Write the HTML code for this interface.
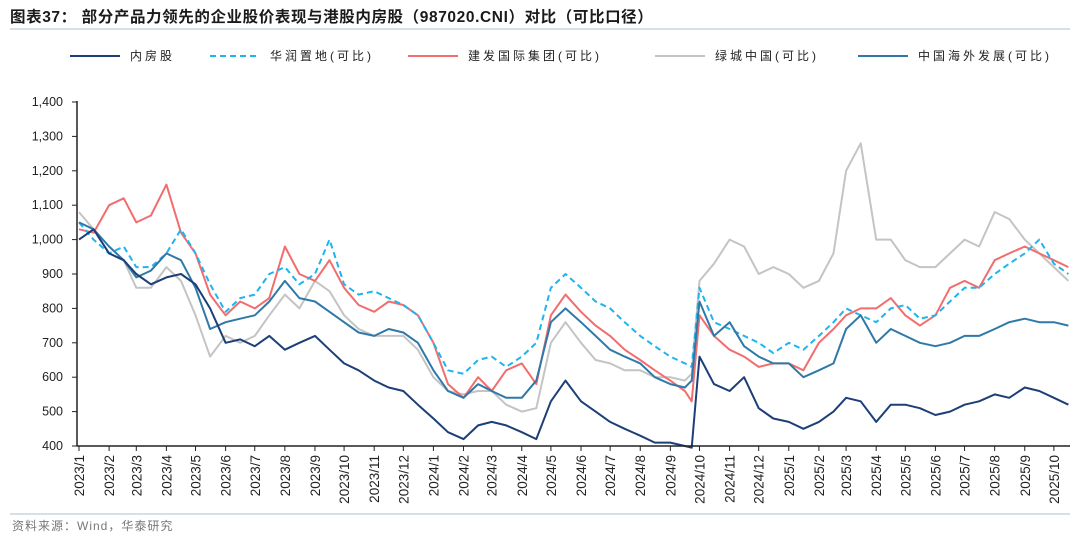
<!DOCTYPE html>
<html><head><meta charset="utf-8"><style>
body{margin:0;width:1080px;height:539px;background:#fff;overflow:hidden;font-family:"Liberation Sans","Noto Sans CJK SC",sans-serif}
svg text{font-family:"Liberation Sans","Noto Sans CJK SC",sans-serif}
</style></head><body>
<svg id="chart" width="1080" height="539">
<text x="10" y="22" font-size="15.5" font-weight="bold" fill="#1a1a1a" letter-spacing="0.6">图表37：  部分产品力领先的企业股价表现与港股内房股（987020.CNI）对比（可比口径）</text>
<line x1="10" y1="29" x2="1070" y2="29" stroke="#a9bfd6" stroke-width="1"/>
<line x1="10" y1="514" x2="1070" y2="514" stroke="#a9bfd6" stroke-width="1"/>
<text x="12" y="530" font-size="12" fill="#777" letter-spacing="1">资料来源：Wind，华泰研究</text>
<g id="legend"></g>
<g id="grid"></g><g id="series"></g><g id="axes"></g>
</svg>
<script>
const dates=(function(){const d=[];for(let y=2023;y<=2025;y++){for(let m=1;m<=12;m++){if(y===2025&&m>10)break;d.push(y+'-'+m+'-1');if(y===2024&&m===9){d.push('2024-9-16');d.push('2024-9-23');}else d.push(y+'-'+m+'-16');}}return d;})();
const seriesNames=["内房股","华润置地(可比)","建发国际集团(可比)","绿城中国(可比)","中国海外发展(可比)"];
const neifang=[1000,1030,960,940,900,870,890,900,870,800,700,710,690,720,680,700,720,680,640,620,590,570,560,520,480,440,420,460,470,460,440,420,530,590,530,500,470,450,430,410,410,400,395,660,580,560,600,510,480,470,450,470,500,540,530,470,520,520,510,490,500,520,530,550,540,570,560,540,520];
const huarun=[1050,1000,960,980,920,920,960,1030,960,870,790,830,840,900,920,870,900,1000,870,840,850,830,810,780,700,620,610,650,660,630,660,700,860,900,860,820,800,760,720,690,660,640,630,860,760,740,720,700,670,700,680,720,760,800,780,760,800,810,770,780,820,860,860,900,930,960,1000,930,900];
const jianfa=[1030,1020,1100,1120,1050,1070,1160,1020,960,840,780,820,800,830,980,900,880,940,860,810,790,820,810,780,700,580,540,600,560,620,640,580,780,840,790,750,720,680,650,620,590,560,530,780,720,680,660,630,640,640,620,700,740,780,800,800,830,780,750,780,860,880,860,940,960,980,960,940,920];
const lvcheng=[1080,1030,960,940,860,860,920,880,780,660,720,700,720,780,840,800,880,850,780,740,720,720,720,680,600,560,550,560,560,520,500,510,700,760,700,650,640,620,620,600,600,590,610,880,930,1000,980,900,920,900,860,880,960,1200,1280,1000,1000,940,920,920,960,1000,980,1080,1060,1000,960,920,880];
const zhonghai=[1050,1030,980,940,890,910,960,940,860,740,760,770,780,820,880,830,820,790,760,730,720,740,730,700,620,560,540,580,560,540,540,590,760,800,760,720,680,660,640,600,580,570,590,820,720,760,690,660,640,640,600,620,640,740,780,700,740,720,700,690,700,720,720,740,760,770,760,760,750];
const yTicks=[400,500,600,700,800,900,1000,1100,1200,1300,1400];
const monthLabels=(function(){const a=[];for(let y=2023;y<=2025;y++)for(let m=1;m<=12;m++){if(y===2025&&m>10)break;a.push(y+'/'+m);}return a;})();

const NS='http://www.w3.org/2000/svg';
const t0=Date.UTC(2023,0,1);
function dayOf(s){const p=s.split('-').map(Number);return (Date.UTC(p[0],p[1]-1,p[2])-t0)/864e5;}
function xScale(day){return 79+day*0.971;}
function yScale(v){return 446-(v-400)*0.344;}
function mk(tag,attrs,parent){const e=document.createElementNS(NS,tag);for(const k in attrs)e.setAttribute(k,attrs[k]);parent.appendChild(e);return e;}
const axes=document.getElementById('axes'),ser=document.getElementById('series'),leg=document.getElementById('legend');

let ax=mk('line',{x1:77,y1:101,x2:77,y2:446,stroke:'#222','stroke-width':1.5},axes);


let bx=mk('line',{x1:77,y1:446,x2:1070,y2:446,stroke:'#222','stroke-width':1.5},axes);


yTicks.forEach(v=>{const y=yScale(v);
 mk('line',{x1:72,y1:y,x2:77,y2:y,stroke:'#222'},axes);
 const t=mk('text',{x:63,y:y+4,'font-size':12.5,'text-anchor':'end',fill:'#222'},axes);t.textContent=v.toLocaleString('en-US');
 
 
});
monthLabels.forEach(l=>{const p=l.split('/').map(Number);const d=(Date.UTC(p[0],p[1]-1,1)-t0)/864e5;const x=xScale(d);
 mk('line',{x1:x,y1:446,x2:x,y2:451,stroke:'#222'},axes);
 const t=mk('text',{x:0,y:0,'font-size':13.5,'text-anchor':'end',fill:'#222',transform:'translate('+(x+5)+',455) rotate(-90)'},axes);t.textContent=l;
 
 
});

const cfg=[
 {data:lvcheng,color:'#c4c4c4',dash:'',name:'series-lvcheng'},
 {data:jianfa,color:'#f26d6d',dash:'',name:'series-jianfa'},
 {data:huarun,color:'#1eb4f0',dash:'6,4',name:'series-huarun'},
 {data:zhonghai,color:'#2f79a9',dash:'',name:'series-zhonghai'},
 {data:neifang,color:'#1c3f77',dash:'',name:'series-neifang'}
];
cfg.forEach(c=>{
 const pts=c.data.map((v,i)=>xScale(dayOf(dates[i])).toFixed(1)+','+yScale(v).toFixed(1)).join(' ');
 const pl=mk('polyline',{points:pts,fill:'none',stroke:c.color,'stroke-width':2,'stroke-dasharray':c.dash,'stroke-linejoin':'round'},ser);
 
 
});
const legX=[70,210,408,655,858];
const legStyle=[['#1c3f77',''],['#1eb4f0','6,4'],['#f26d6d',''],['#c4c4c4',''],['#2f79a9','']];
seriesNames.forEach((n,i)=>{
 const g=mk('g',{},leg);
 
 
 mk('line',{x1:legX[i],y1:56,x2:legX[i]+50,y2:56,stroke:legStyle[i][0],'stroke-width':2,'stroke-dasharray':legStyle[i][1]},g);
 const t=mk('text',{x:legX[i]+60,y:60,'font-size':12,fill:'#222','letter-spacing':'3'},g);t.textContent=n;
});
</script>
</body></html>
